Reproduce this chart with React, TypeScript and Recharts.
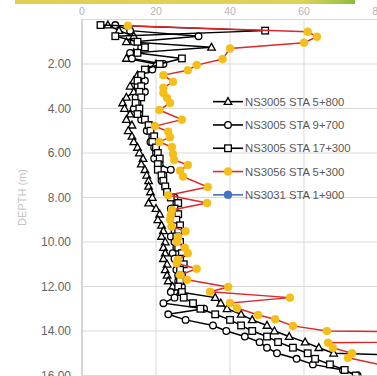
import React from 'react';
import { ScatterChart, Scatter, XAxis, YAxis, CartesianGrid, Legend } from 'recharts';

// depth (m) for the three NS3005 soundings, 0.25 m steps
const depthsNS3005 = [
  0.25, 0.5, 0.75, 1, 1.25, 1.5, 1.75, 2, 2.25, 2.5, 2.75, 3, 3.25, 3.5, 3.75, 4,
  4.25, 4.5, 4.75, 5, 5.25, 5.5, 5.75, 6, 6.25, 6.5, 6.75, 7, 7.25, 7.5, 7.75, 8,
  8.25, 8.5, 8.75, 9, 9.25, 9.5, 9.75, 10, 10.25, 10.5, 10.75, 11, 11.25, 11.5, 11.75, 12,
  12.25, 12.5, 12.75, 13, 13.25, 13.5, 13.75, 14, 14.25, 14.5, 14.75, 15, 15.25, 15.5, 15.75, 16,
];

const sta5800 = [
  7, 10, 14, 12, 35, 14, 12, 20, 18, 15, 14, 13, 14, 12, 11, 11.5,
  13, 12, 13.5, 12.5, 13.5, 14, 15, 15.5, 16.5, 16, 17, 17.5, 18, 18, 18.5, 19,
  18, 20, 21, 20.5, 21.5, 22, 21.5, 22.5, 22, 22.5, 22, 23, 22.5, 23, 23.3, 24.5,
  26.5, 36, 37.5, 39.2, 43, 46, 50, 52, 56, 60.3, 64, 68, 120,
];

const sta9700 = [
  9, 13, 31.5, 14, 16, 13, 13.5, 22, 19, 16, 17, 15, 17, 14.5, 15, 14,
  15.5, 16, 18.5, 17.5, 19, 18.5, 19.5, 20, 19.5, 21, 24, 22, 21.5, 22.5, 23, 25,
  25.5, 24, 25, 24.5, 25.5, 25, 24, 25, 25.5, 24.5, 25, 26, 25.5, 26, 26, 27,
  24, 25, 22, 33, 23.3, 28, 35.4, 39, 44, 48, 50, 52.7, 58, 62.4, 70.5, 74.5,
];

const sta17300 = [
  5, 49.5, 9, 15, 17, 15, 27, 21, 17, 16, 15, 16, 15.5, 16, 14.5, 15.5,
  15, 17, 18, 18.5, 19.5, 19, 20, 20.5, 21, 20.5, 20.5, 21.5, 22, 22.5, 23, 24,
  26, 25, 26, 25.5, 26.5, 26, 25.5, 26.5, 26, 27, 26.5, 27.5, 26.5, 27, 26.5, 26,
  27, 27.5, 30, 32, 36, 40, 43, 46, 50, 53, 57, 61, 63, 67, 71, 74,
];

const depthsNS3056 = [
  0.28, 0.55, 0.77, 1.04, 1.3, 1.78, 2.05, 2.28, 2.5, 2.8, 3.07, 3.3, 3.53, 3.75, 4.07,
  4.5, 4.79, 5.04, 5.29, 5.5, 5.73, 6.04, 6.31, 6.54, 6.8, 7.06, 7.53, 7.9, 8.25, 8.56,
  8.8, 9.0, 9.3, 9.52, 9.77, 10.0, 10.26, 10.5, 10.8, 10.96, 11.2, 11.48, 11.7, 12.02, 12.24,
  12.5, 12.74, 12.97, 13.28, 13.47, 13.77, 14.0, 14.25, 14.53, 14.76, 15.0, 15.2, 16.2,
];

const sta5300 = [
  12.4, 61, 63.5, 60, 40, 38, 31, 28.6, 22, 24.6, 22, 22, 23, 23.8, 20.9,
  27, 19.7, 23.3, 23.8, 20.9, 24.3, 24.6, 24.9, 28.6, 26.5, 27.3, 34, 23.3, 33.8, 24.3,
  24, 23.8, 24.2, 28, 26, 25.6, 27.8, 28.6, 25.9, 25.6, 31, 26.5, 28.4, 39.5, 34.6,
  56.2, 40, 41.9, 47.6, 52.2, 57, 66.2, 200, 66.5, 67.8, 73, 71.9, 100,
];

const depthsNS3031: number[] = [];
const sta1900: number[] = [];

const xTicks = [0, 20, 40, 60, 80];
const yTicks = [0, 2, 4, 6, 8, 10, 12, 14, 16];
const minorXTicks = Array.from({ length: 21 }, (_, i) => i * 4);
const minorYTicks = Array.from({ length: 49 }, (_, i) => i / 3);

const toPoints = (depths: number[], values: number[]) =>
  values.map((v, i) => ({ value: v, depth: depths[i] }));

type Kind = 'triangle' | 'circle' | 'square' | 'dot';

const series = [
  { name: 'NS3005 STA 5+800', data: toPoints(depthsNS3005, sta5800), kind: 'triangle' as Kind, line: '#000', fill: '#fff', stroke: '#000' },
  { name: 'NS3005 STA 9+700', data: toPoints(depthsNS3005, sta9700), kind: 'circle' as Kind, line: '#000', fill: '#fff', stroke: '#000' },
  { name: 'NS3005 STA 17+300', data: toPoints(depthsNS3005, sta17300), kind: 'square' as Kind, line: '#000', fill: '#fff', stroke: '#000' },
  { name: 'NS3056 STA 5+300', data: toPoints(depthsNS3056, sta5300), kind: 'dot' as Kind, line: '#dc2a2a', fill: '#f5bf1a', stroke: '#f5bf1a' },
  { name: 'NS3031 STA 1+900', data: toPoints(depthsNS3031, sta1900), kind: 'dot' as Kind, line: '#4472c4', fill: '#4472c4', stroke: '#4472c4' },
];

function Marker({ kind, cx, cy, fill, stroke }: { kind: Kind; cx: number; cy: number; fill: string; stroke: string }) {
  if (cx == null || cy == null) return <g />;
  if (kind === 'triangle') {
    return (
      <polygon
        points={`${cx},${cy - 4} ${cx + 3.8},${cy + 2.8} ${cx - 3.8},${cy + 2.8}`}
        fill={fill}
        stroke={stroke}
        strokeWidth={1.3}
      />
    );
  }
  if (kind === 'square') {
    return <rect x={cx - 3.3} y={cy - 3.3} width={6.6} height={6.6} fill={fill} stroke={stroke} strokeWidth={1.3} />;
  }
  if (kind === 'dot') {
    return <circle cx={cx} cy={cy} r={4} fill={fill} stroke={stroke} strokeWidth={0.5} />;
  }
  return <circle cx={cx} cy={cy} r={3.3} fill={fill} stroke={stroke} strokeWidth={1.3} />;
}

function LegendBox() {
  const rowH = 23.3;
  return (
    <svg width={160} height={120}>
      {series.map((s, i) => {
        const y = rowH / 2 + i * rowH;
        return (
          <g key={s.name}>
            <line x1={0} x2={30} y1={y} y2={y} stroke={s.line} strokeWidth={1.6} />
            <Marker kind={s.kind} cx={15} cy={y} fill={s.fill} stroke={s.stroke} />
            <text x={32} y={y + 4} fontSize={11.3} fill="#595959" fontFamily="Liberation Sans, Arial, sans-serif">
              {s.name}
            </text>
          </g>
        );
      })}
    </svg>
  );
}

export default function App() {
  return (
    <div
      style={{
        position: 'fixed',
        left: 0,
        top: 0,
        width: 377,
        height: 376,
        overflow: 'hidden',
        background: '#fff',
        fontFamily: 'Liberation Sans, Arial, sans-serif',
      }}
    >
      <div style={{ position: 'absolute', left: 0, top: 0 }}>
        <ScatterChart width={400} height={392} margin={{ top: 5.5, right: 22, bottom: 16.5, left: 12 }}>
          <CartesianGrid stroke="#d9d9d9" />
          <XAxis
            type="number"
            dataKey="value"
            orientation="top"
            domain={[0, 80]}
            ticks={xTicks}
            allowDataOverflow
            height={14}
            tickLine={false}
            tickSize={4}
            tickMargin={1}
            axisLine={{ stroke: '#d9d9d9' }}
            tick={{ fill: '#b5b5b5', fontSize: 10.5 }}
          />
          <YAxis
            type="number"
            dataKey="depth"
            domain={[0, 16]}
            reversed
            ticks={yTicks}
            allowDataOverflow
            width={70}
            tickLine={false}
            tickMargin={5}
            axisLine={{ stroke: '#bfbfbf' }}
            tick={{ fill: '#666', fontSize: 12 }}
            tickFormatter={(v: number) => (v === 0 ? '' : v.toFixed(2))}
            label={{
              value: 'DEPTH (m)',
              angle: -90,
              position: 'insideLeft',
              offset: 10,
              style: { textAnchor: 'middle', fill: '#c4c4c4', fontSize: 11 },
            }}
          />
          <XAxis
            xAxisId="minor"
            type="number"
            orientation="top"
            domain={[0, 80]}
            ticks={minorXTicks}
            allowDataOverflow
            height={0}
            mirror
            axisLine={false}
            tickSize={4}
            tickLine={{ stroke: '#bfbfbf' }}
            tickFormatter={() => ''}
          />
          <YAxis
            yAxisId="minor"
            type="number"
            domain={[0, 16]}
            reversed
            ticks={minorYTicks}
            allowDataOverflow
            width={0}
            mirror
            axisLine={false}
            tickSize={4}
            tickLine={{ stroke: '#bfbfbf' }}
            tickFormatter={() => ''}
          />
          {series.map((s) => (
            <Scatter
              key={s.name}
              name={s.name}
              data={s.data}
              fill={s.fill}
              line={{ stroke: s.line, strokeWidth: 1.5 }}
              lineType="joint"
              isAnimationActive={false}
              shape={(p: any) => <Marker kind={s.kind} cx={p.cx} cy={p.cy} fill={s.fill} stroke={s.stroke} />}
            />
          ))}
          <Legend
            layout="horizontal"
            verticalAlign="middle"
            align="center"
            wrapperStyle={{ left: 213, top: 90, width: 160, height: 120 }}
            content={() => <LegendBox />}
          />
        </ScatterChart>
      </div>
      <div
        style={{
          position: 'absolute',
          left: 15,
          top: 0,
          width: 340,
          height: 4,
          background: 'linear-gradient(to right, #e4cf55, #dcd35a 85%, #8dbd3e)',
        }}
      />
    </div>
  );
}
